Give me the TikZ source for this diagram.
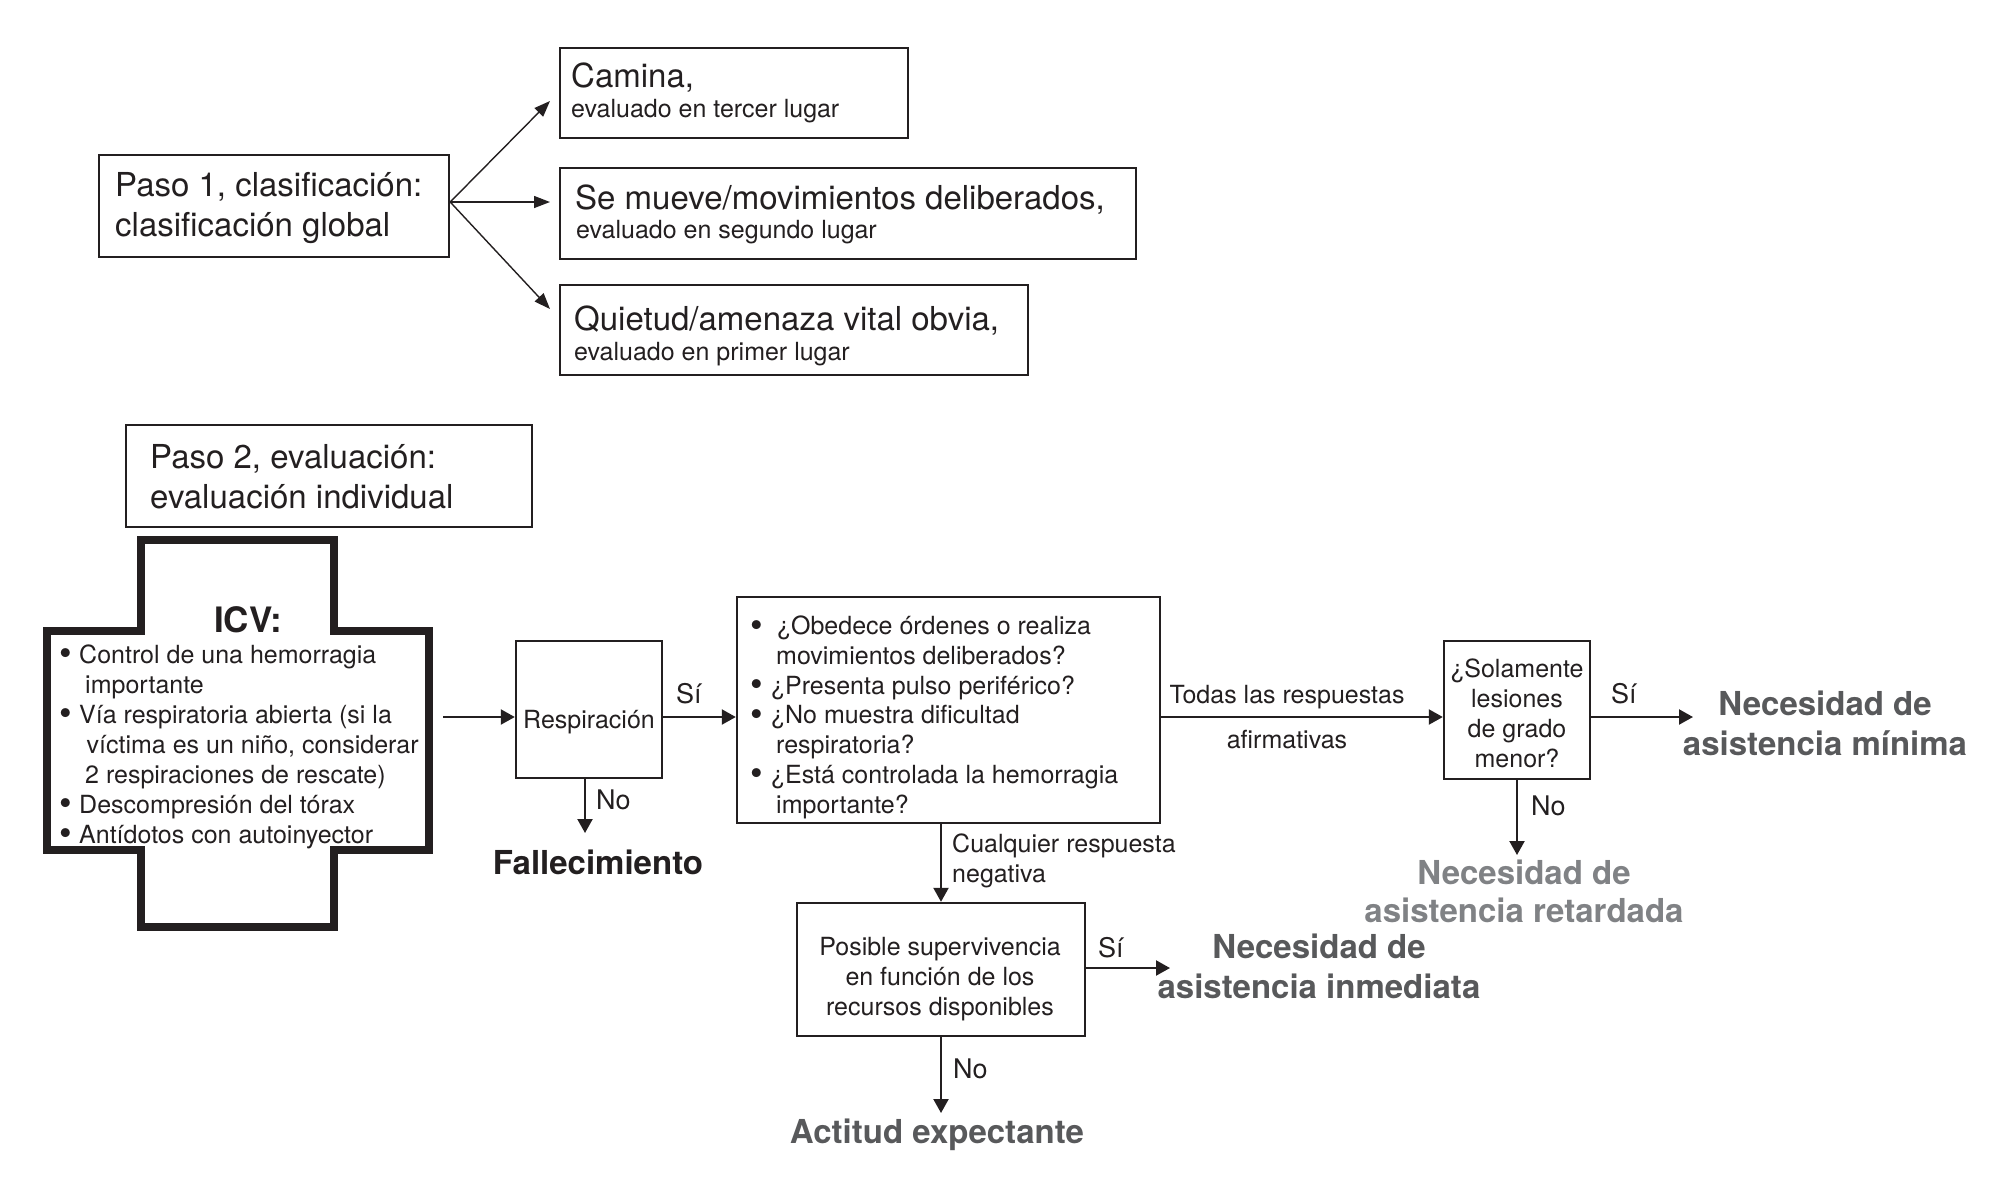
\documentclass[tikz,border=0pt]{standalone}
\usepackage{fontspec}
\setmainfont{TeX Gyre Heros}
\usetikzlibrary{arrows.meta}
\definecolor{ink}{HTML}{231F20}
\definecolor{darkg}{HTML}{58595B}
\definecolor{lightg}{HTML}{808285}
\newcommand{\fsz}[2]{\fontsize{#1}{#2}\selectfont}
\newcommand{\bulx}[1]{\makebox[#1][l]{\raisebox{-2.5pt}{\fontsize{36}{30}\selectfont •}}}
\begin{document}
\begin{tikzpicture}[x=1pt,y=-1pt,
  box/.style={draw=ink, line width=2.4pt, inner sep=0pt, rectangle},
  txt/.style={inner sep=0pt, text=ink, font=\fsz{25}{30}},
  big/.style={inner sep=0pt, text=ink, font=\fsz{33}{39.5}},
  lab/.style={inner sep=0pt, text=ink, font=\fsz{27}{30}},
  outcome/.style={inner sep=0pt, font=\bfseries\fsz{33}{39.5}, align=center, anchor=base},
  arr/.style={draw=ink, line width=2.2pt, -{Triangle[length=14pt,width=15pt]}},
  tarr/.style={draw=ink, line width=1.4pt, -{Triangle[length=16pt,width=12pt]}},
]
\useasboundingbox (0,0) rectangle (2012,1179);

% ---------- Paso 1 ----------
\node[box, minimum width=350pt, minimum height=102pt] (p1) at (274,206) {};
\node[box, minimum width=348pt, minimum height=90pt] (cam) at (734,93) {};
\node[box, minimum width=576pt, minimum height=91pt] (mue) at (848,213.5) {};
\node[box, minimum width=468pt, minimum height=90pt] (qui) at (794,330) {};

% (multi-line nodes: the base anchor is the baseline of the last line)
\node[big, anchor=base west, align=left] (p1t) at (115,236) {Paso 1, clasificación:\\clasificación global};
\node[big, anchor=base west] (cam1) at (571,87) {Camina,};
\node[txt, anchor=base west] (cam2) at (571,117) {evaluado en tercer lugar};
\node[big, anchor=base west] (mue1) at (575,209) {Se mueve/movimientos deliberados,};
\node[txt, anchor=base west] (mue2) at (576,238) {evaluado en segundo lugar};
\node[big, anchor=base west] (qui1) at (574,330) {Quietud/amenaza vital obvia,};
\node[txt, anchor=base west] (qui2) at (574,360) {evaluado en primer lugar};

\coordinate (e1) at (550,101);
\coordinate (e2) at (550,202);
\coordinate (e3) at (550,309);
\draw[tarr] ([yshift=4pt]p1.east) -- (e1);
\draw[tarr] ([yshift=4pt]p1.east) -- (e2);
\draw[tarr] ([yshift=4pt]p1.east) -- (e3);

% ---------- Paso 2 ----------
\node[box, minimum width=406pt, minimum height=102pt] (p2) at (329,476) {};
\node[big, anchor=base west, align=left, font=\fsz{33}{40}] (p2t) at (150,508) {Paso 2, evaluación:\\evaluación individual};

% cross
\draw[draw=ink, line width=7.5pt, line join=miter]
  (141,540) -- (334,540) -- (334,631) -- (429,631) -- (429,850) -- (334,850)
  -- (334,927) -- (141,927) -- (141,850) -- (47,850) -- (47,631) -- (141,631) -- cycle;
\node[inner sep=0pt, text=ink, font=\bfseries\fsz{35}{40}, anchor=base] (icv) at (248,632) {ICV:};
\node[txt, anchor=base west, align=left] (icvl) at (59.5,843)
  {\bulx{19.5pt}Control de una hemorragia\\
   \hspace*{25.5pt}importante\\
   \bulx{19.5pt}Vía respiratoria abierta (si la\\
   \hspace*{27pt}víctima es un niño, considerar\\
   \hspace*{25.5pt}2 respiraciones de rescate)\\
   \bulx{19.5pt}Descompresión del tórax\\
   \bulx{19.5pt}Antídotos con autoinyector};

% boxes of the flow
\node[box, minimum width=146pt, minimum height=137pt] (resp) at (589,709.5) {};
\node[txt, anchor=base] (respt) at (589,728) {Respiración};

\node[box, minimum width=423pt, minimum height=226pt] (q) at (948.5,710) {};
\node[txt, anchor=base west, align=left, font=\fsz{25}{29.7}] (qt) at (750.5,813)
  {\bulx{26.5pt}¿Obedece órdenes o realiza\\
   \hspace*{25.5pt}movimientos deliberados?\\
   \bulx{20.5pt}¿Presenta pulso periférico?\\
   \bulx{20.5pt}¿No muestra dificultad\\
   \hspace*{25.5pt}respiratoria?\\
   \bulx{20.5pt}¿Está controlada la hemorragia\\
   \hspace*{25.5pt}importante?};

\node[box, minimum width=146pt, minimum height=138pt] (sol) at (1517,710) {};
\node[txt, anchor=base, align=center] (solt) at (1517,767) {¿Solamente\\lesiones\\de grado\\menor?};

\node[box, minimum width=288pt, minimum height=133pt] (pos) at (941,969.5) {};
\node[txt, anchor=base, align=center] (post) at (940,1015) {Posible supervivencia\\en función de los\\recursos disponibles};

% labels
\node[lab, anchor=base west] (si1) at (676,703) {Sí};
\node[lab, anchor=base west] (no1) at (596,809) {No};
\node[txt, anchor=base] (tod1) at (1287,703) {Todas las respuestas};
\node[txt, anchor=base] (tod2) at (1287,748) {afirmativas};
\node[lab, anchor=base west] (si2) at (1611,703) {Sí};
\node[lab, anchor=base west] (no2) at (1531,815) {No};
\node[txt, anchor=base west, align=left] (cual) at (952,882) {Cualquier respuesta\\negativa};
\node[lab, anchor=base west] (si3) at (1098,957) {Sí};
\node[lab, anchor=base west] (no3) at (953,1078) {No};

% outcomes
\node[outcome, text=ink] (fal) at (598,874) {Fallecimiento};
\node[outcome, text=darkg] (mini) at (1825,755) {Necesidad de\\asistencia mínima};
\node[outcome, text=lightg, font=\bfseries\fsz{33}{38}] (ret) at (1524,922) {Necesidad de\\asistencia retardada};
\node[outcome, text=darkg, font=\bfseries\fsz{33}{40}] (inm) at (1319,998) {Necesidad de\\asistencia inmediata};
\node[outcome, text=darkg] (act) at (937,1143) {Actitud expectante};

% connectors
\coordinate (ri) at (443,717);
\coordinate (me) at (1693,717);
\coordinate (fe) at (585,833);
\coordinate (re) at (1517,855);
\coordinate (ie) at (1170,968);
\coordinate (ae) at (941,1113);
\draw[arr] (ri) -- (resp.west |- ri);
\draw[arr] (resp.east |- ri) -- (q.west |- ri);
\draw[arr] (q.east |- ri) -- (sol.west |- ri);
\draw[arr] (sol.east |- ri) -- (me);
\draw[arr] (resp.south -| fe) -- (fe);
\draw[arr] (sol.south) -- (re);
\draw[arr] (q.south -| pos.north) -- (pos.north);
\draw[arr] (pos.east |- ie) -- (ie);
\draw[arr] (pos.south) -- (ae);
\end{tikzpicture}
\end{document}
